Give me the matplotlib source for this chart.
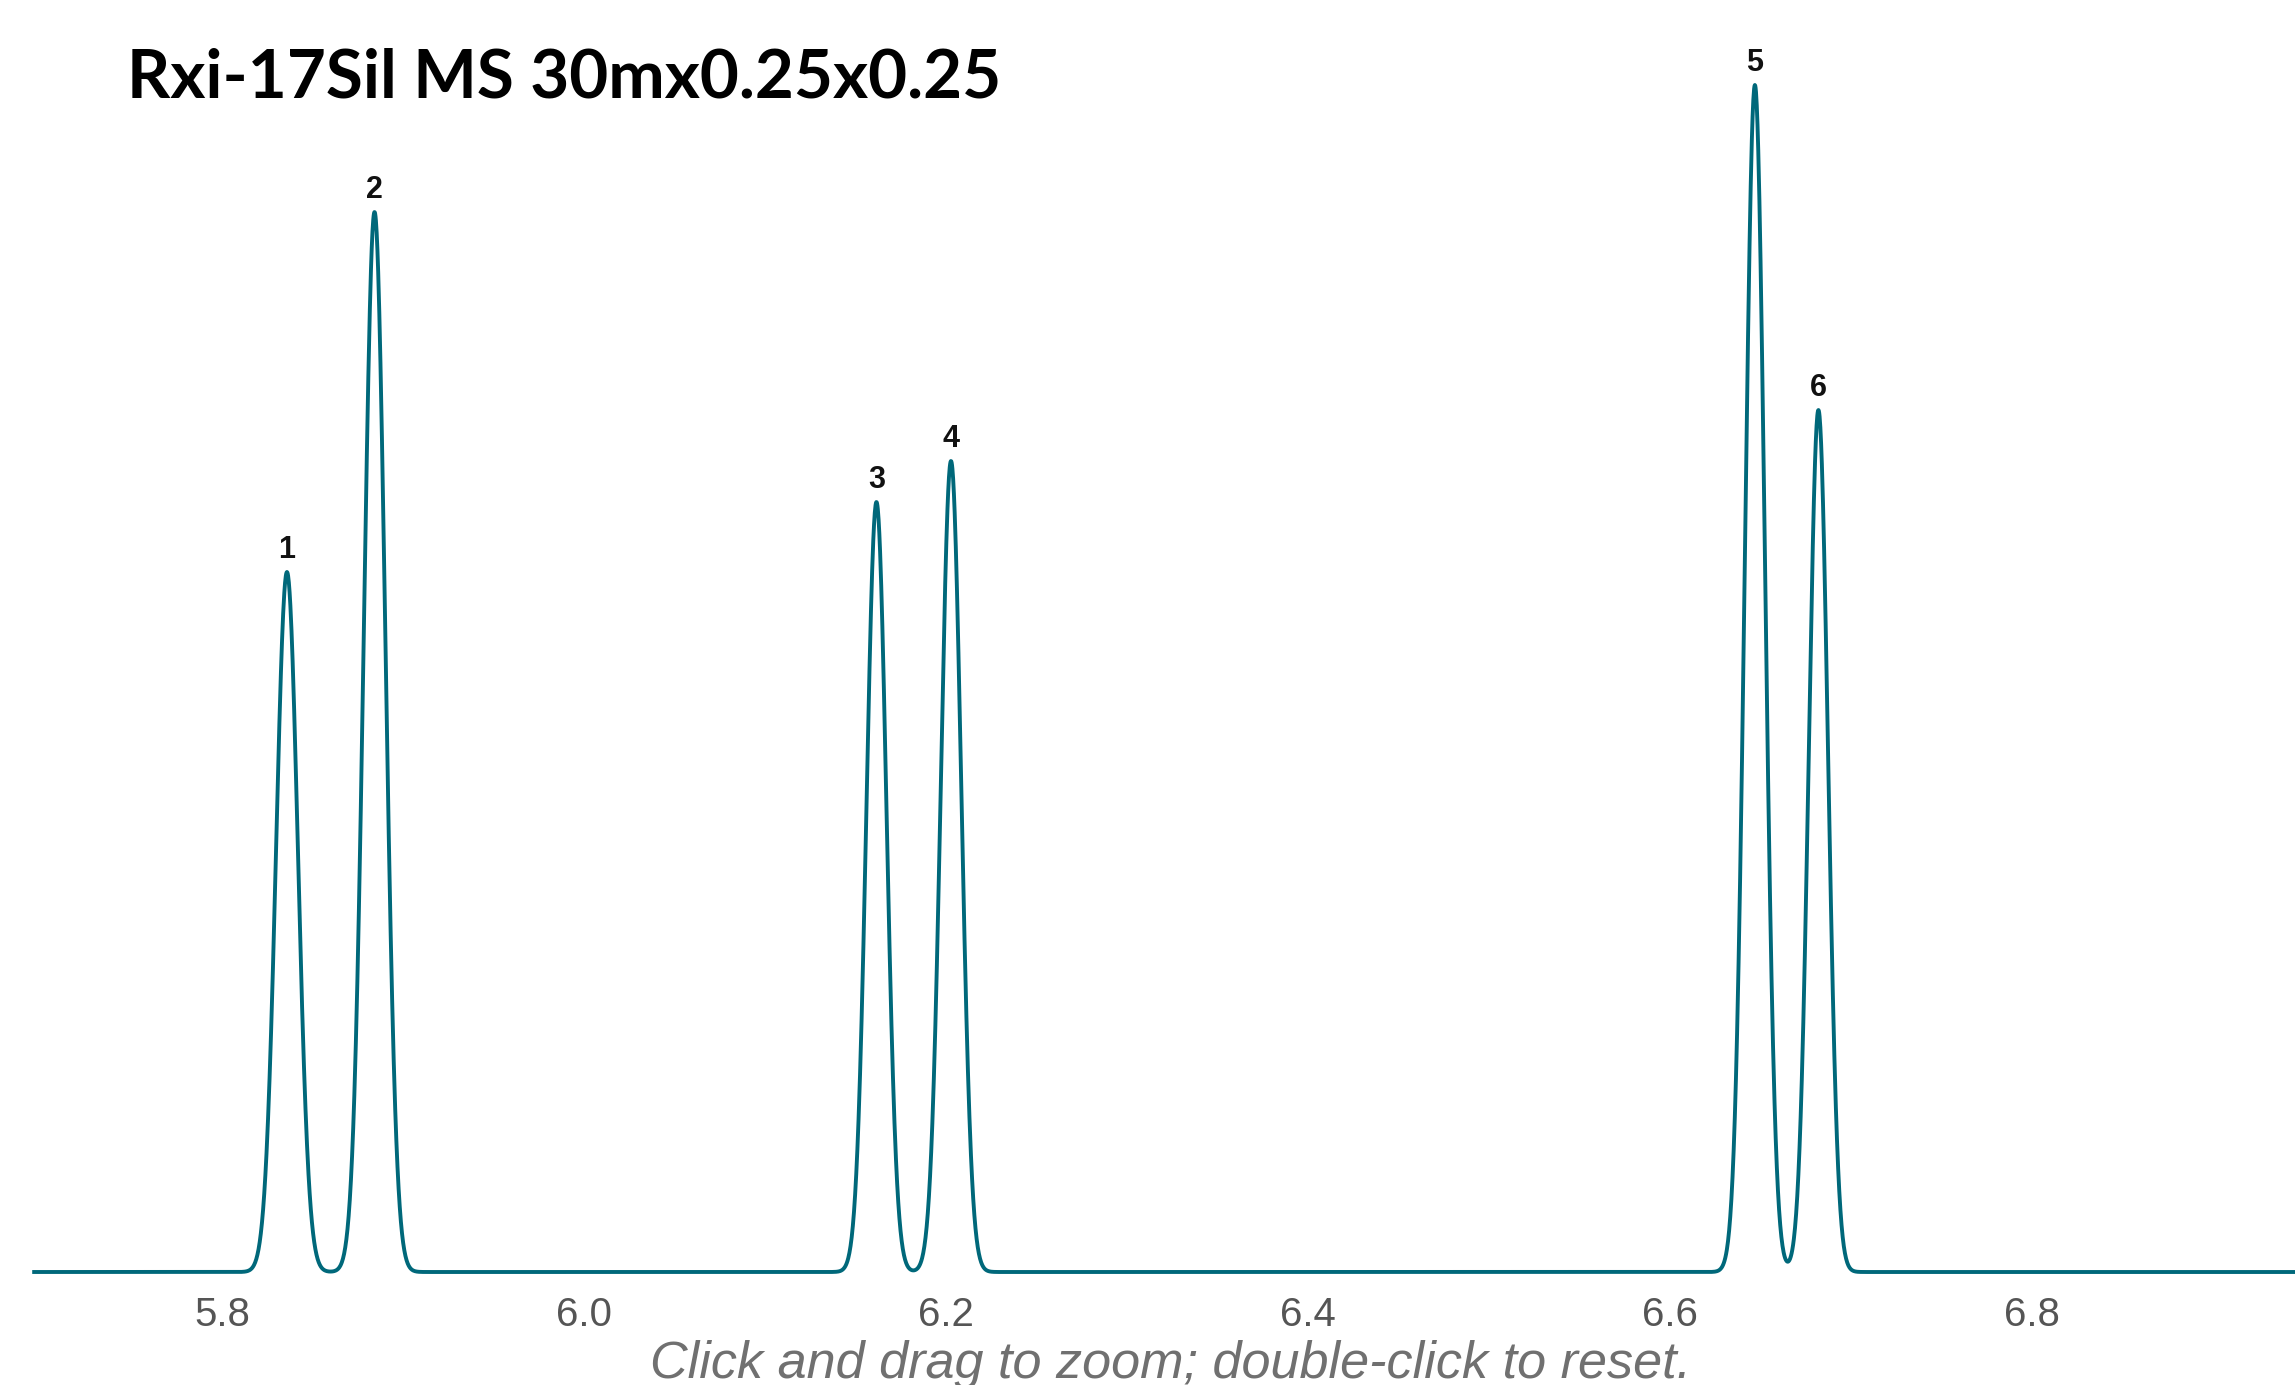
"""Chromatogram: Rxi-17Sil MS column, six peaks."""

import numpy as np
import matplotlib
matplotlib.use("Agg")
import matplotlib.pyplot as plt

# peak data (time in min, height in arbitrary units)
PEAK_LABELS = ["1", "2", "3", "4", "5", "6"]
RET_TIMES = [5.8358, 5.8842, 6.1616, 6.2028, 6.6471, 6.6822]
HEIGHTS = [700, 1060, 770, 811, 1187, 862]
SIGMAS = [0.0060, 0.0059, 0.0055, 0.0056, 0.0055, 0.0053]

X_TICKS = [5.8, 6.0, 6.2, 6.4, 6.6, 6.8]
RUN_START, RUN_END = 5.695, 6.95

TITLE = "Rxi-17Sil MS 30mx0.25x0.25"
HINT = "Click and drag to zoom; double-click to reset."
LINE_COLOR = "#00687A"

W, H = 2295, 1385


def trace(x):
    y = np.zeros_like(x)
    for t, h, s in zip(RET_TIMES, HEIGHTS, SIGMAS):
        y += h * np.exp(-((x - t) ** 2) / (2 * s ** 2))
    return y


fig = plt.figure(figsize=(W / 100, H / 100), dpi=100)
ax_bottom = 95 / H
ax = fig.add_axes([0, ax_bottom, 1, 1 - ax_bottom])

x = np.linspace(RUN_START, RUN_END, 6000)
ax.plot(x, trace(x), color=LINE_COLOR, lw=2.8, solid_capstyle="butt")

for lab, t, h in zip(PEAK_LABELS, RET_TIMES, HEIGHTS):
    ax.annotate(lab, (t, h), xytext=(0, 5), textcoords="offset points",
                ha="center", va="bottom", fontsize=22, fontweight="bold",
                family="Liberation Sans", color="#111111")

ax.set_xlim(5.6772, 6.9456)
ax.set_ylim(-18, 1272)
ax.set_xticks(X_TICKS)
ax.set_xticklabels([f"{v:.1f}" for v in X_TICKS])
ax.set_yticks([])
ax.tick_params(axis="x", length=0, pad=4, labelsize=29, labelcolor="#555555")
for lbl in ax.get_xticklabels():
    lbl.set_family("Liberation Sans")
for sp in ax.spines.values():
    sp.set_visible(False)

fig.text(127 / W, 1 - 97 / H, TITLE, fontsize=48.5, fontweight="bold",
         family="Lato", ha="left", va="baseline", color="black")
fig.text(1171 / W, 1 - 1378 / H, HINT, fontsize=37.5, style="italic",
         family="Liberation Sans", ha="center", va="baseline", color="#707070")

fig.savefig("out.png", dpi=100)
